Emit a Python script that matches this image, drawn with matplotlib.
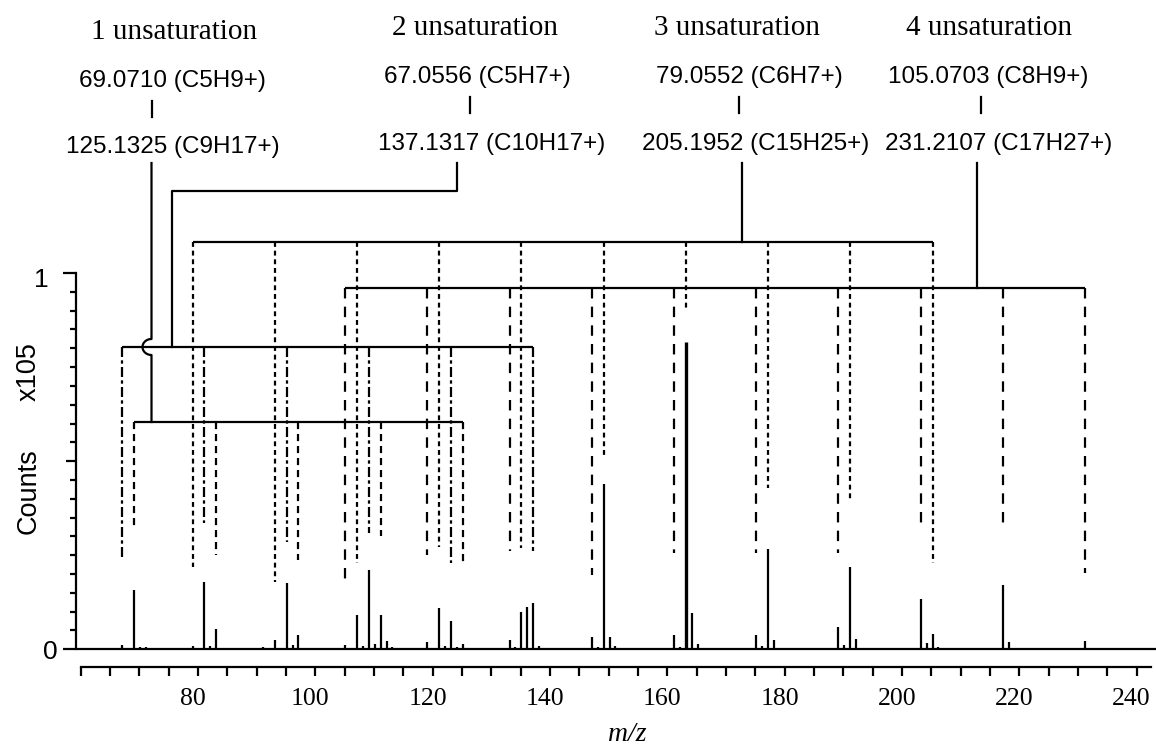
import matplotlib.pyplot as plt
import numpy as np
from matplotlib.ticker import FixedLocator
from matplotlib.transforms import ScaledTranslation

plt.rcParams['font.family'] = 'Liberation Sans'

# Spectrum: m/z and counts (x10^5)
peak_mz = [67.05, 69.07, 70.07, 71.09, 77.04, 79.05, 81.07, 82.08, 83.09, 84.09,
           91.05, 93.07, 95.09, 96.09, 97.10, 98.10,
           105.07, 107.09, 108.09, 109.10, 110.10, 111.12, 112.12, 113.10,
           119.09, 120.09, 121.10, 122.10, 123.12, 124.12, 125.13,
           133.10, 134.10, 135.12, 136.12, 137.13, 138.13, 139.11,
           147.12, 148.12, 149.13, 150.14, 151.14,
           161.13, 162.14, 163.15, 164.15, 165.16,
           175.15, 176.15, 177.16, 178.17,
           189.16, 190.17, 191.18, 192.18,
           203.18, 204.19, 205.20, 206.20,
           217.20, 218.20, 231.21, 232.21]
peak_counts = [0.011, 0.158, 0.006, 0.005, 0.004, 0.008, 0.180, 0.008, 0.053, 0.004,
               0.005, 0.025, 0.176, 0.011, 0.038, 0.004,
               0.012, 0.090, 0.009, 0.211, 0.015, 0.091, 0.022, 0.005,
               0.020, 0.004, 0.109, 0.009, 0.076, 0.005, 0.014,
               0.025, 0.005, 0.100, 0.112, 0.122, 0.008, 0.003,
               0.032, 0.005, 0.439, 0.032, 0.010,
               0.038, 0.006, 0.816, 0.096, 0.014,
               0.038, 0.008, 0.266, 0.025,
               0.059, 0.012, 0.220, 0.027,
               0.133, 0.016, 0.040, 0.005,
               0.171, 0.020, 0.023, 0.003]

# Homologous ion series: member masses and where each guide line stops
series_titles = ['1 unsaturation', '2 unsaturation', '3 unsaturation', '4 unsaturation']
series_low = ['69.0710 (C5H9+)', '67.0556 (C5H7+)', '79.0552 (C6H7+)', '105.0703 (C8H9+)']
series_high = ['125.1325 (C9H17+)', '137.1317 (C10H17+)', '205.1952 (C15H25+)', '231.2107 (C17H27+)']

unsat1_mz = [69.07, 83.09, 97.10, 111.12, 125.13]
unsat1_end = [0.325, 0.251, 0.238, 0.300, 0.233]
unsat2_mz = [67.06, 81.07, 95.09, 109.10, 123.12, 137.13]
unsat2_end = [0.243, 0.336, 0.286, 0.309, 0.230, 0.260]
unsat3_mz = [79.06, 93.07, 107.09, 121.10, 135.12, 149.13, 163.15, 177.16, 191.18, 205.20]
unsat3_end = [0.220, 0.180, 0.230, 0.273, 0.269, 0.512, 0.908, 0.429, 0.397, 0.230]
unsat4_mz = [105.07, 119.09, 133.10, 147.12, 161.13, 175.15, 189.16, 203.18, 217.20, 231.21]
unsat4_end = [0.184, 0.251, 0.260, 0.198, 0.256, 0.256, 0.256, 0.317, 0.331, 0.203]

W, H = 1156, 747
fig = plt.figure(figsize=(W / 100, H / 100), dpi=100)

x_lo, x_hi = 59.18, 243.3
y0_px, y1_px = 649.3, 273.0
ppu_y = y0_px - y1_px
ppu_x = (W - 76) / (x_hi - x_lo)
ax = fig.add_axes([76 / W, (H - y0_px) / H, (W - 76) / W, y0_px / H])
ax.set_xlim(x_lo, x_hi)
ax.set_ylim(0, y0_px / ppu_y)


def fx(px):
    return x_lo + (px - 76) / ppu_x


def fy(py):
    return (y0_px - py) / ppu_y


lw = 1.6
# spectrum
ax.plot([59.5, 243.3], [0, 0], color='k', lw=lw, clip_on=False)
widths = [2.4 if c > 0.7 else lw for c in peak_counts]
ax.vlines(peak_mz, 0, peak_counts, colors='k', linewidths=widths, clip_on=False)

# bracket guides for each series
members = [unsat1_mz, unsat2_mz, unsat3_mz, unsat4_mz]
ends = [unsat1_end, unsat2_end, unsat3_end, unsat4_end]
levels = [fy(422), fy(347), fy(241.5), fy(288.3)]
dashes = [(3.2, 2.2), (4.5, 1.5, 1.5, 1.5), (2.2, 1.7), (4.7, 3.7)]
for mz, end, lvl, ds in zip(members, ends, levels, dashes):
    ax.plot([mz[0], mz[-1]], [lvl, lvl], color='k', lw=lw, clip_on=False,
            solid_capstyle='butt')
    for m, e in zip(mz, end):
        ax.plot([m, m], [lvl, e], color='k', lw=lw, linestyle=(0, ds),
                clip_on=False)

# connectors from the labels down to the brackets
top = fy(163)
c1 = fx(151.5)
rx, ry = 9 / ppu_x, 8 / ppu_y
t = np.linspace(np.pi / 2, 3 * np.pi / 2, 40)
hop_x = c1 + rx * np.cos(t)
hop_y = levels[1] + ry * np.sin(t)
ax.plot(np.concatenate([[c1], hop_x, [c1]]),
        np.concatenate([[top], hop_y, [levels[0]]]),
        color='k', lw=lw, clip_on=False)
ax.plot([fx(457.3), fx(457.3), fx(172), fx(172)],
        [top, fy(191), fy(191), levels[1]], color='k', lw=lw, clip_on=False)
ax.plot([fx(742), fx(742)], [top, levels[2]], color='k', lw=lw, clip_on=False)
ax.plot([fx(977), fx(977)], [top, levels[3]], color='k', lw=lw, clip_on=False)

# labels above the plot
title_x = [173.8, 475, 737, 989]
title_base = [39.3, 35, 35, 35]
low_x = [172, 477.5, 749, 988]
high_x = [173, 491.7, 756, 999]
bar_x = [152, 470, 739, 980.7]
shift = [3.5, 0, 0, 0]
for i in range(4):
    fig.text(title_x[i] / W, 1 - title_base[i] / H, series_titles[i], ha='center',
             va='baseline', fontsize=21, family='Liberation Serif')
    fig.text(low_x[i] / W, 1 - (83 + shift[i]) / H, series_low[i], ha='center',
             va='baseline', fontsize=17.5)
    fig.text(high_x[i] / W, 1 - (150 + shift[i]) / H, series_high[i], ha='center',
             va='baseline', fontsize=17.5)
    ax.plot([fx(bar_x[i])] * 2, [fy(97 + shift[i]), fy(113 + shift[i])],
            color='k', lw=lw, clip_on=False)

# axes styling
for side in ['top', 'right']:
    ax.spines[side].set_visible(False)
ax.spines['left'].set_bounds(0, 1)
ax.spines['left'].set_linewidth(lw)
ax.spines['bottom'].set_position(('outward', 12.5))
ax.spines['bottom'].set_bounds(60, 242.5)
ax.spines['bottom'].set_linewidth(lw)

ax.xaxis.set_major_locator(FixedLocator(range(80, 241, 20)))
ax.xaxis.set_minor_locator(FixedLocator(range(60, 241, 5)))
ax.tick_params(axis='x', which='both', direction='out', length=6.5, width=lw,
               pad=9, labelsize=18.5)
for lab in ax.get_xticklabels():
    lab.set_fontfamily('Liberation Serif')
    lab.set_transform(lab.get_transform() +
                      ScaledTranslation(-5 / 100, 0, fig.dpi_scale_trans))

ax.yaxis.set_major_locator(FixedLocator([0, 0.5, 1]))
ax.yaxis.set_minor_locator(FixedLocator(np.arange(0.05, 0.99, 0.05)))
ax.tick_params(axis='y', which='major', direction='out', length=9.4, width=lw,
               labelleft=False)
ax.tick_params(axis='y', which='minor', direction='out', length=4.3, width=lw)
ax.yaxis.get_major_ticks()[1].tick1line.set_markersize(7.2)

fig.text(41 / W, 1 - 287 / H, '1', ha='center', va='baseline', fontsize=19)
fig.text(50 / W, 1 - 659 / H, '0', ha='center', va='baseline', fontsize=19)
fig.text(29 / W, 1 - 491 / H, 'Counts', rotation=90, ha='center', va='center',
         fontsize=19.5)
fig.text(29 / W, 1 - 372 / H, 'x105', rotation=90, ha='center', va='center',
         fontsize=19.5)
fig.text(627 / W, 1 - 741 / H, 'm/z', ha='center', va='baseline', fontsize=20,
         family='Liberation Serif', style='italic')

fig.savefig('out.png', dpi=100)
